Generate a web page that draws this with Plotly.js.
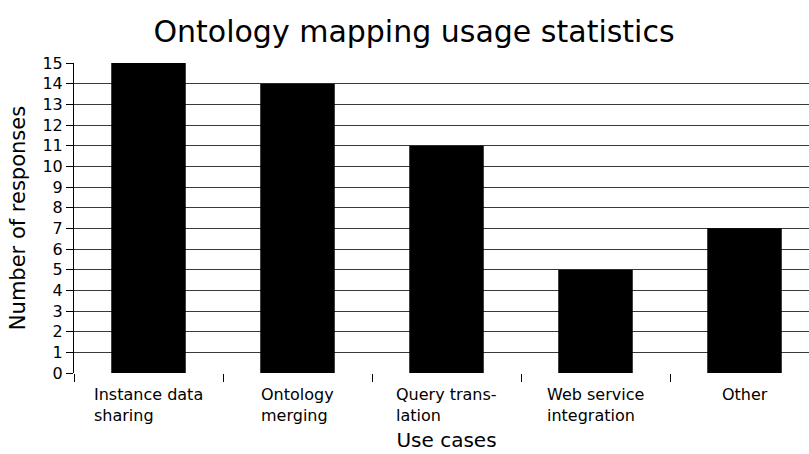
<!DOCTYPE html>
<html>
<head>
<meta charset="utf-8">
<script src="https://cdn.plot.ly/plotly-3.0.1.min.js"></script>
<style>
html, body { margin: 0; padding: 0; overflow: hidden; background: #fff; }
#chart { width: 819px; height: 470px; }
</style>
</head>
<body>
<div id="chart"></div>
<script>
var categories = ["Instance data", "Ontology merging", "Query translation", "Web service integration", "Other"];
var tickLabels = ["Instance data<br>sharing", "Ontology<br>merging", "Query trans-<br>lation", "Web service<br>integration", "Other"];
var responses = [15, 14, 11, 5, 7];
var yTicks = [0, 1, 2, 3, 4, 5, 6, 7, 8, 9, 10, 11, 12, 13, 14, 15];

var FONT = "DejaVu Sans, Verdana, sans-serif";

var trace = {
  type: "bar",
  x: categories,
  y: responses,
  marker: { color: "#000000", line: { width: 0 } },
  hoverinfo: "x+y"
};

var annotations = categories.map(function (c, i) {
  return {
    x: c, xref: "x",
    y: 0, yref: "paper",
    yanchor: "top", xanchor: "center",
    yshift: -10,
    text: tickLabels[i],
    align: "left",
    showarrow: false,
    font: { family: FONT, size: 16, color: "#000" }
  };
});

var layout = {
  width: 819,
  height: 470,
  margin: { l: 74, r: 0, t: 63, b: 97 },
  paper_bgcolor: "#ffffff",
  plot_bgcolor: "#ffffff",
  font: { family: FONT, color: "#000" },
  showlegend: false,
  bargap: 0.5,
  title: {
    text: "Ontology mapping usage statistics",
    font: { family: FONT, size: 30, color: "#000" },
    xref: "container", x: 414 / 819, xanchor: "center",
    yref: "container", y: 1 - 31 / 470, yanchor: "middle"
  },
  xaxis: {
    type: "category",
    range: [-0.5, 4.5],
    showticklabels: false,
    ticks: "outside",
    tickson: "boundaries",
    ticklen: 8,
    tickcolor: "#000",
    tickwidth: 1,
    showgrid: false,
    showline: false,
    zeroline: false,
    automargin: false,
    title: { text: "Use cases", font: { family: FONT, size: 20, color: "#000" }, standoff: 59 }
  },
  yaxis: {
    range: [0, 15],
    tickvals: yTicks,
    ticktext: yTicks.map(String),
    tickfont: { family: FONT, size: 16, color: "#000" },
    ticks: "outside",
    ticklen: 7,
    tickcolor: "#000",
    showline: true,
    linecolor: "#000",
    linewidth: 1,
    showgrid: true,
    gridcolor: "#3a3a3a",
    gridwidth: 1,
    zeroline: false,
    automargin: false,
    title: { text: "Number of responses", font: { family: FONT, size: 21, color: "#000" }, standoff: 11 }
  },
  annotations: annotations
};

Plotly.newPlot("chart", [trace], layout, { displayModeBar: false, staticPlot: true });
</script>
</body>
</html>
